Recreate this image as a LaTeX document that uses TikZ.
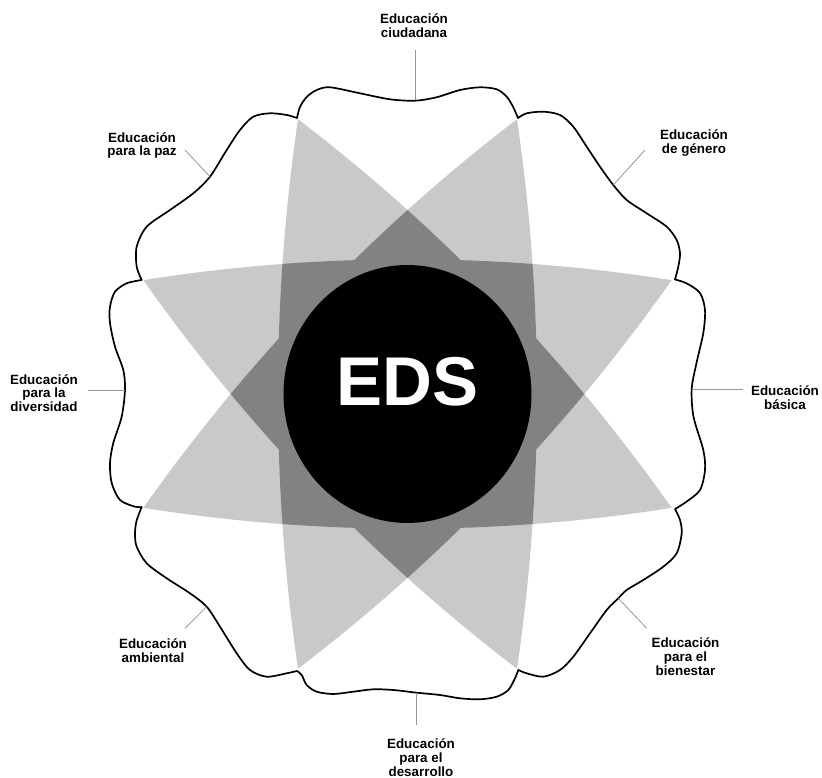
\documentclass[tikz,border=0pt]{standalone}
\usepackage{fontspec}
\setmainfont{Liberation Sans}
\begin{document}
\begin{tikzpicture}[x=1pt,y=1pt]
\definecolor{petal}{RGB}{201,201,201}
\definecolor{overlap}{RGB}{130,130,130}
\definecolor{leader}{RGB}{150,150,150}
\tikzset{
  lbl/.style={font=\fontsize{13.4}{13.7}\selectfont\bfseries, align=center, text=black, inner sep=0pt},
  leaderline/.style={draw=leader, line width=0.8pt},
  outlinestyle/.style={draw=black, line width=1.7pt, line join=round},
  eds/.style={font=\fontsize{69}{69}\selectfont\bfseries, text=white, inner sep=0pt}
}
\useasboundingbox (-407.5,-384) rectangle (414.5,394);
% lens circles (design units, scope yscale=1.04)
\def\Va{(-1600.5,0) circle[radius=1730]}
\def\Vb{(1600.5,0) circle[radius=1730]}
\def\Ha{(0,-1600.5) circle[radius=1730]}
\def\Hb{(0,1600.5) circle[radius=1730]}
\def\Aa{(-1131.7,1131.7) circle[radius=1730]}
\def\Ab{(1131.7,-1131.7) circle[radius=1730]}
\def\Ba{(-1131.7,-1131.7) circle[radius=1730]}
\def\Bb{(1131.7,1131.7) circle[radius=1730]}
\def\outline{plot[smooth] coordinates {(-110.5,276) (-107.5,287) (-100.8,297) (-90.8,304) (-77.5,306.7) (-47.5,300.7) (-17.5,294.7) (7.5,293.3) (29,296.7) (52.5,304) (72.5,306.7) (89.2,304.7) (99.2,297.3) (105.5,287.3) (110.5,276)}
 -- plot[smooth] coordinates {(110.5,276) (119.2,280.7) (135.8,282.3) (152.5,279) (165.8,267.3) (179.2,247.3) (192.5,227.3) (205.8,209) (219.2,194) (239.2,180.7) (259.2,167.3) (269.2,154) (272.5,140.7) (270.8,127.3) (267.5,114.5)}
 -- plot[smooth] coordinates {(267.5,114.5) (279,110.7) (292.5,101) (297.5,84) (295.8,61) (289,31) (284.2,5) (286,-22.7) (295.8,-56) (297.5,-76) (292.5,-96) (279,-107.7) (267.5,-115)}
 -- plot[smooth] coordinates {(267.5,-115) (272.5,-126) (274.2,-139.3) (269.2,-159.3) (255.8,-172.7) (235.8,-186) (219.2,-196) (210.8,-204.3) (199.2,-216) (182.5,-239.3) (165.8,-262.7) (152.5,-276) (135.8,-282.7) (119.2,-279.3) (110.8,-276)}
 -- plot[smooth] coordinates {(110.8,-276) (107.5,-284.3) (100.8,-296) (89.2,-302.7) (72.5,-305.3) (52.5,-304.3) (32.5,-301) (9.2,-298.7) (-14.2,-296) (-34.2,-295.3) (-54.2,-297.7) (-74.2,-300) (-90.8,-297.7) (-100.8,-291) (-105.8,-281) (-110.5,-277)}
 -- plot[smooth] coordinates {(-110.5,-277) (-120.8,-279.3) (-140.8,-282.7) (-157.5,-276) (-170.8,-259.3) (-187.5,-232.7) (-200.8,-212.7) (-217.5,-199.3) (-240.8,-184.3) (-260.8,-169.3) (-270.8,-152.7) (-272.5,-140) (-271,-127) (-265.8,-113)}
 -- plot[smooth] coordinates {(-265.8,-113) (-272.5,-112.7) (-287.5,-106) (-295.8,-89) (-297.5,-69) (-294.2,-49) (-285.8,-22.7) (-282.5,4) (-284.2,24) (-292.5,47.3) (-297.5,71) (-297.5,87.3) (-292.5,102.3) (-280.8,110.7) (-265.8,114)}
 -- plot[smooth] coordinates {(-265.8,114) (-270.8,127.3) (-270.8,147.3) (-260.8,167.3) (-237.5,184) (-214.2,200.7) (-197.5,217.3) (-180.8,244) (-167.5,264) (-154.2,277.3) (-137.5,280.7) (-120.8,279) (-110.5,276)} -- cycle}
\begin{scope}
  \clip \outline;
  \begin{scope}[yscale=1.04]
    % light petals: V∩A, V∩B, H∩A, H∩B
    \begin{scope}\clip \Va; \clip \Vb; \clip \Aa; \fill[petal] \Ab; \end{scope}
    \begin{scope}\clip \Va; \clip \Vb; \clip \Ba; \fill[petal] \Bb; \end{scope}
    \begin{scope}\clip \Ha; \clip \Hb; \clip \Aa; \fill[petal] \Ab; \end{scope}
    \begin{scope}\clip \Ha; \clip \Hb; \clip \Ba; \fill[petal] \Bb; \end{scope}
    % overlaps
    \begin{scope}\clip \Va; \clip \Vb; \clip \Aa; \clip \Ab; \clip \Ba; \fill[overlap] \Bb; \end{scope}
    \begin{scope}\clip \Ha; \clip \Hb; \clip \Aa; \clip \Ab; \clip \Ba; \fill[overlap] \Bb; \end{scope}
    \begin{scope}\clip \Va; \clip \Vb; \clip \Ha; \clip \Hb; \clip \Aa; \fill[overlap] \Ab; \end{scope}
    \begin{scope}\clip \Va; \clip \Vb; \clip \Ha; \clip \Hb; \clip \Ba; \fill[overlap] \Bb; \end{scope}
    \fill[black] (0,0) circle[radius=124];
  \end{scope}
\end{scope}
\draw[outlinestyle] \outline;
\node[eds] (core) at (0,12) {EDS};
% labels
\node[lbl] (ciud) at (6.5,368) {Educación\\ciudadana};
\node[lbl] (gen) at (286.5,251) {Educación\\de género};
\node[lbl] (paz) at (-265.5,248.5) {Educación\\para la paz};
\node[lbl] (div) at (-363.5,1) {Educación\\para la\\diversidad};
\node[lbl] (bas) at (377.5,-4) {Educación\\básica};
\node[lbl] (bien) at (278,-262.7) {Educación\\para el\\bienestar};
\node[lbl] (desa) at (13.5,-363.5) {Educación\\para el\\desarrollo};
\node[lbl] (amb) at (-254.5,-257) {Educación\\ambiental};
% leader lines
\coordinate (ciudA) at (7.5,294); \coordinate (ciudB) at (7.5,344);
\coordinate (genA) at (205.8,209); \coordinate (genB) at (237.5,244);
\coordinate (pazA) at (-197.5,217.3); \coordinate (pazB) at (-222.5,244);
\coordinate (divA) at (-282.5,4); \coordinate (divB) at (-319.2,4);
\coordinate (basA) at (284.2,5); \coordinate (basB) at (335.2,5);
\coordinate (bienA) at (210.8,-204.3); \coordinate (bienB) at (239.2,-234.3);
\coordinate (desaA) at (9.2,-299.3); \coordinate (desaB) at (9.2,-331);
\coordinate (ambA) at (-200.8,-212.7); \coordinate (ambB) at (-222.5,-234.3);
\draw[leaderline] (ciudA) -- (ciudB);
\draw[leaderline] (genA) -- (genB);
\draw[leaderline] (pazA) -- (pazB);
\draw[leaderline] (divA) -- (divB);
\draw[leaderline] (basA) -- (basB);
\draw[leaderline] (bienA) -- (bienB);
\draw[leaderline] (desaA) -- (desaB);
\draw[leaderline] (ambA) -- (ambB);
\end{tikzpicture}
\end{document}
